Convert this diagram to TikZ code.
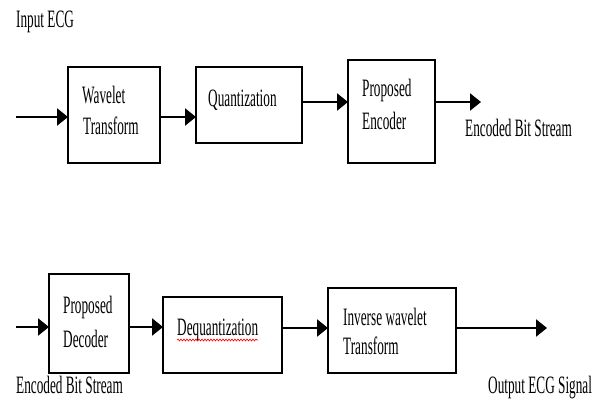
\documentclass[tikz,border=0pt]{standalone}
\usepackage{fontspec}
\setmainfont{Liberation Serif}
\usetikzlibrary{arrows.meta,decorations.pathmorphing}
\newcommand{\nar}[1]{\scalebox{0.53}[1]{#1}}
\begin{document}
\begin{tikzpicture}[x=1pt,y=-1pt,
 boxnode/.style={draw, line width=1.6pt, inner sep=0pt, outer sep=0pt},
 lbl/.style={anchor=base west, inner sep=0pt, font=\fontsize{25}{29}\selectfont},
 arr/.style={line width=2.4pt, -{Triangle[length=11pt,width=17pt]}},
 squig/.style={red, line width=0.6pt, decorate, decoration={snake, amplitude=1pt, segment length=3pt}}]
\useasboundingbox (0,0) rectangle (606,401);

% top row
\node[lbl] (tin) at (16,28) {\nar{Input ECG}};
\node[boxnode, minimum width=92pt, minimum height=96pt] (b1) at (114,115) {};
\node[lbl] (t1a) at (82,104) {\nar{Wavelet}};
\node[lbl] (t1b) at (83,135) {\nar{Transform}};
\node[boxnode, minimum width=106pt, minimum height=76pt] (b2) at (249,105) {};
\node[lbl] (t2) at (208,107) {\nar{Quantization}};
\node[boxnode, minimum width=87pt, minimum height=103pt] (b3) at (391.5,111.5) {};
\node[lbl] (t3a) at (362,97) {\nar{Proposed}};
\node[lbl] (t3b) at (362,130) {\nar{Encoder}};
\node[lbl] (tout1) at (465,137) {\nar{Encoded Bit Stream}};

% bottom row
\node[boxnode, minimum width=80pt, minimum height=99pt] (b4) at (89,323.5) {};
\node[lbl] (t4a) at (63,313) {\nar{Proposed}};
\node[lbl] (t4b) at (63,348) {\nar{Decoder}};
\node[boxnode, minimum width=119pt, minimum height=76pt] (b5) at (222.5,335) {};
\node[lbl] (t5) at (177,335) {\nar{Dequantization}};
\node[boxnode, minimum width=128pt, minimum height=85pt] (b6) at (392,330.5) {};
\node[lbl] (t6a) at (343,325) {\nar{Inverse wavelet}};
\node[lbl] (t6b) at (343,355) {\nar{Transform}};
\node[lbl] (tin2) at (16,393) {\nar{Encoded Bit Stream}};
\node[lbl] (tout2) at (488,393) {\nar{Output ECG Signal}};

\draw[squig] (t5.base west) ++(0,5) -- ++(81,0);

% arrows
\coordinate (s1) at (16,117);
\draw[arr] (s1) -- (b1.west |- s1);
\draw[arr] (b1.east |- 0,117) -- (b2.west |- 0,117);
\draw[arr] (b2.east |- 0,102) -- (b3.west |- 0,102);
\coordinate (e1) at (481,102);
\draw[arr] (b3.east |- e1) -- (e1);
\coordinate (s2) at (16,327);
\draw[arr] (s2) -- (b4.west |- s2);
\draw[arr] (b4.east |- 0,327) -- (b5.west |- 0,327);
\draw[arr] (b5.east |- 0,328) -- (b6.west |- 0,328);
\coordinate (e2) at (547,328);
\draw[arr] (b6.east |- e2) -- (e2);
\end{tikzpicture}
\end{document}
